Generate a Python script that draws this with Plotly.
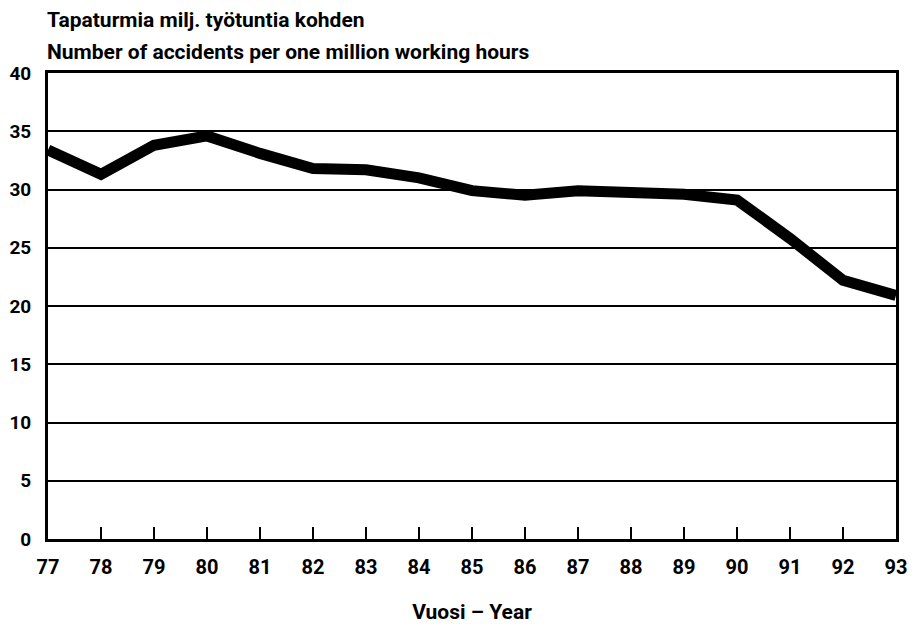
import plotly.graph_objects as go

years = [77, 78, 79, 80, 81, 82, 83, 84, 85, 86, 87, 88, 89, 90, 91, 92, 93]
year_labels = [str(y) for y in years]
accidents = [33.4, 31.3, 33.8, 34.6, 33.1, 31.8, 31.7, 31.0, 29.9, 29.5, 29.9, 29.7, 29.6, 29.1, 25.8, 22.2, 20.9]
y_ticks = [0, 5, 10, 15, 20, 25, 30, 35, 40]

FONT = "Roboto, DejaVu Sans, sans-serif"

def f(size=21):
    return dict(family=FONT, size=size, color="black", weight="bold")

fig = go.Figure()
fig.add_trace(go.Scatter(
    x=years, y=accidents, mode="lines",
    line=dict(color="black", width=11),
    hoverinfo="x+y", showlegend=False,
))

# the page body adds an 8px margin, so the figure is sized/offset to fit the 915x632 window
fig.update_layout(
    width=907, height=616,
    margin=dict(l=40, r=19, t=65, b=85),
    paper_bgcolor="white", plot_bgcolor="white",
    font=f(),
    xaxis=dict(
        range=[77, 93], tickvals=years, ticktext=year_labels,
        ticks="inside", ticklen=12, tickwidth=1.5, tickcolor="black",
        showgrid=False, zeroline=False, automargin=False,
        showline=True, linecolor="black", linewidth=2.5, mirror=True,
        tickfont=f(20), ticklabelstandoff=8,
        title=dict(text="Vuosi – Year", standoff=47, font=f()),
    ),
    yaxis=dict(
        range=[0, 40], tickvals=y_ticks, ticktext=[str(v) for v in y_ticks],
        ticks="", showgrid=True, gridcolor="black", gridwidth=1.5, automargin=False,
        zeroline=False, showline=True, linecolor="black", linewidth=3, mirror=True,
        tickfont=f(19),
        ticklabelstandoff=10,
    ),
    annotations=[
        dict(text="Tapaturmia milj. työtuntia kohden", x=0, y=1, xref="paper", yref="paper",
             xanchor="left", yanchor="bottom", xshift=-2, yshift=40, borderpad=0,
             showarrow=False, font=f()),
        dict(text="Number of accidents per one million working hours", x=0, y=1, xref="paper", yref="paper",
             xanchor="left", yanchor="bottom", xshift=-2, yshift=8, borderpad=0,
             showarrow=False, font=f()),
    ],
)

fig.write_html("out.html")
